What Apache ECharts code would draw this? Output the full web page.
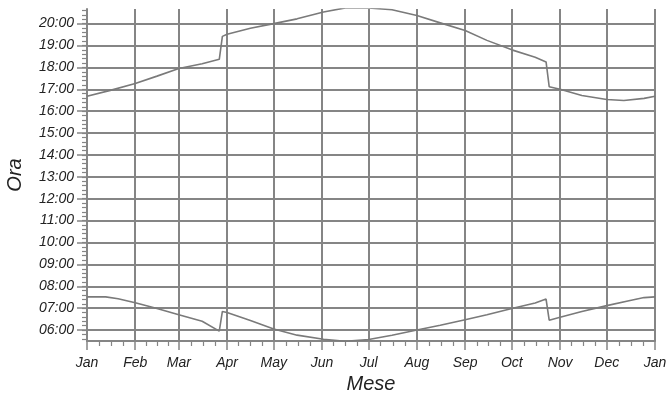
<!DOCTYPE html>
<html><head><meta charset="utf-8">
<script src="https://cdn.jsdelivr.net/npm/echarts@6/dist/echarts.min.js"></script>
<style>html,body{margin:0;padding:0;background:#fff}#c{width:667px;height:397px}</style>
</head><body><div id="c"></div>
<script>
// ---- data ----
const monthLabels = ['Jan','Feb','Mar','Apr','May','Jun','Jul','Aug','Sep','Oct','Nov','Dec','Jan'];
const monthStartDays = [0,31,59,90,120,151,181,212,243,273,304,334,365];
const hourLabels = ['06:00','07:00','08:00','09:00','10:00','11:00','12:00','13:00','14:00','15:00','16:00','17:00','18:00','19:00','20:00'];
const yRange = ['05:30','20:40'];

const sunsetDays  = [0,15,31,45,59,74,85,87,90,105,120,135,152,166,181,196,212,227,243,257,273,288,295,297,304,318,334,345,358,365];
const sunsetTimes = ['16:41','16:57','17:16','17:36','17:57','18:10','18:22','19:25','19:31','19:47','20:00','20:13','20:32','20:43','20:43','20:38','20:22','20:02','19:41','19:14','18:48','18:28','18:15','17:07','17:00','16:43','16:32','16:29','16:35','16:41'];

const sunriseDays  = [0,12,20,31,45,59,74,85,87,90,105,120,135,152,166,181,196,212,227,243,257,273,288,295,297,304,318,334,349,358,365];
const sunriseTimes = ['07:31','07:31','07:26','07:15','06:59','06:42','06:24','05:57','06:51','06:48','06:26','06:03','05:46','05:35','05:29','05:34','05:46','06:00','06:13','06:28','06:42','06:59','07:14','07:25','06:27','06:35','06:51','07:07','07:21','07:29','07:31'];

// ---- helpers ----
const toMin = s => { const p = s.split(':'); return +p[0]*60 + +p[1]; };
const fmt = v => { const h = Math.floor(v/60), m = v%60; return String(h).padStart(2,'0')+':'+String(m).padStart(2,'0'); };
const yMin = toMin(yRange[0]), yMax = toMin(yRange[1]);
const hourVals = hourLabels.map(toMin);
const minorY = [];
for (let v = Math.ceil(yMin/12)*12; v <= yMax; v += 12) minorY.push(v);
const minorX = [];
for (let i = 0; i < monthStartDays.length-1; i++) {
  const a = monthStartDays[i], b = monthStartDays[i+1];
  for (let k = 1; k < 4; k++) minorX.push(a + (b-a)*k/4);
}
const monthName = {};
monthStartDays.forEach((d,i)=>{ monthName[d] = monthLabels[i]; });

const GRID = '#858585';
const FONT = 'Liberation Sans';
const labelStyle = {fontFamily: FONT, fontStyle: 'italic', fontSize: 14, color: '#222'};
const nameStyle = {fontFamily: FONT, fontStyle: 'italic', fontSize: 20, color: '#222'};

const chart = echarts.init(document.getElementById('c'), null, {renderer: 'canvas'});
chart.setOption({
  animation: false,
  backgroundColor: '#fff',
  grid: {left: 87, right: 12, top: 9, bottom: 56, containLabel: false, outerBoundsMode: 'none'},
  xAxis: [
    {type: 'value', position: 'bottom', min: 0, max: 365,
     name: 'Mese', nameLocation: 'middle', nameGap: 33, nameTextStyle: nameStyle,
     axisLine: {show: true, lineStyle: {color: GRID, width: 2}},
     axisTick: {show: true, customValues: monthStartDays, length: 9, lineStyle: {color: GRID, width: 1.5}},
     axisLabel: Object.assign({customValues: monthStartDays, margin: 15, formatter: v => monthName[v] || ''}, labelStyle),
     splitLine: {show: true, lineStyle: {color: GRID, width: 2}}},
    {type: 'value', position: 'bottom', min: 0, max: 365, offset: 0,
     axisLine: {show: false},
     axisTick: {show: true, customValues: minorX, length: 5, lineStyle: {color: GRID, width: 1.2}},
     axisLabel: {show: false}, splitLine: {show: false}}
  ],
  yAxis: [
    {type: 'value', position: 'left', min: yMin, max: yMax,
     name: 'Ora', nameLocation: 'middle', nameGap: 62, nameTextStyle: nameStyle,
     axisLine: {show: true, lineStyle: {color: GRID, width: 2}},
     axisTick: {show: true, customValues: hourVals, length: 10, lineStyle: {color: GRID, width: 1.5}},
     axisLabel: Object.assign({customValues: hourVals, margin: 13, formatter: v => fmt(v)}, labelStyle),
     splitLine: {show: true, lineStyle: {color: GRID, width: 2}}},
    {type: 'value', position: 'left', min: yMin, max: yMax, offset: 0,
     axisLine: {show: false},
     axisTick: {show: true, customValues: minorY, length: 5, lineStyle: {color: GRID, width: 1.2}},
     axisLabel: {show: false}, splitLine: {show: false}}
  ],
  series: [
    {type: 'line', name: 'Tramonto', xAxisIndex: 0, yAxisIndex: 0, showSymbol: false, clip: true,
     lineStyle: {color: '#7a7a7a', width: 1.6},
     data: sunsetDays.map((d,i)=>[d, toMin(sunsetTimes[i])])},
    {type: 'line', name: 'Alba', xAxisIndex: 0, yAxisIndex: 0, showSymbol: false, clip: true,
     lineStyle: {color: '#7a7a7a', width: 1.6},
     data: sunriseDays.map((d,i)=>[d, toMin(sunriseTimes[i])])}
  ]
});
</script></body></html>
